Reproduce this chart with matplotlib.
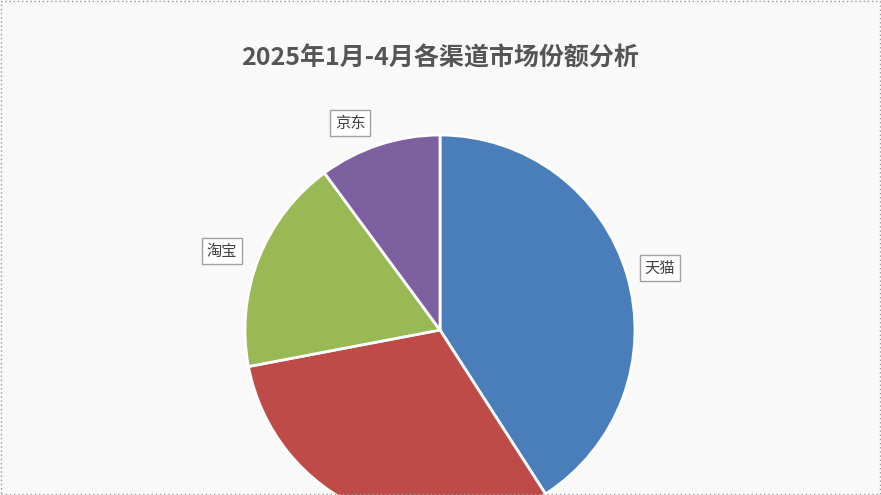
import matplotlib.pyplot as plt
from matplotlib.patches import Rectangle

plt.rcParams['font.family'] = ['Noto Sans CJK SC', 'DejaVu Sans']

channels = ["天猫", "抖音", "淘宝", "京东"]
shares = [40.9, 31.1, 17.9, 10.1]
colors = ["#4a7ebb", "#be4b48", "#98b954", "#7d60a0"]
# label of the red slice sits below the visible area in the reference, so it is not drawn
label_pos = [(660, 227), None, (222, 244), (350, 372)]

fig = plt.figure(figsize=(8.81, 4.95), dpi=100)
fig.patch.set_facecolor("#f9f9fa")
ax = fig.add_axes([0, 0, 1, 1])

ax.pie(shares, colors=colors, startangle=90, counterclock=False,
       center=(440, 165), radius=195, frame=True,
       wedgeprops=dict(edgecolor="white", linewidth=2))
ax.set_xlim(0, 881)
ax.set_ylim(0, 495)
ax.set_aspect("auto")
ax.axis("off")

for name, pos in zip(channels, label_pos):
    if pos is None:
        continue
    ax.text(pos[0], pos[1], name, fontsize=11, color="#404040", ha="center", va="center",
            bbox=dict(boxstyle="square,pad=0.3", fc="white", ec="#a0a0a0", lw=1))

ax.text(440, 437, "2025年1月-4月各渠道市场份额分析", fontsize=18, fontweight="bold",
        color="#555555", ha="center", va="center")

ax.add_patch(Rectangle((1, 1), 879, 493, fill=False, ec="#9a9a9a", lw=1, ls=(0, (1, 2))))

fig.savefig("out.png", dpi=100, facecolor=fig.get_facecolor())
